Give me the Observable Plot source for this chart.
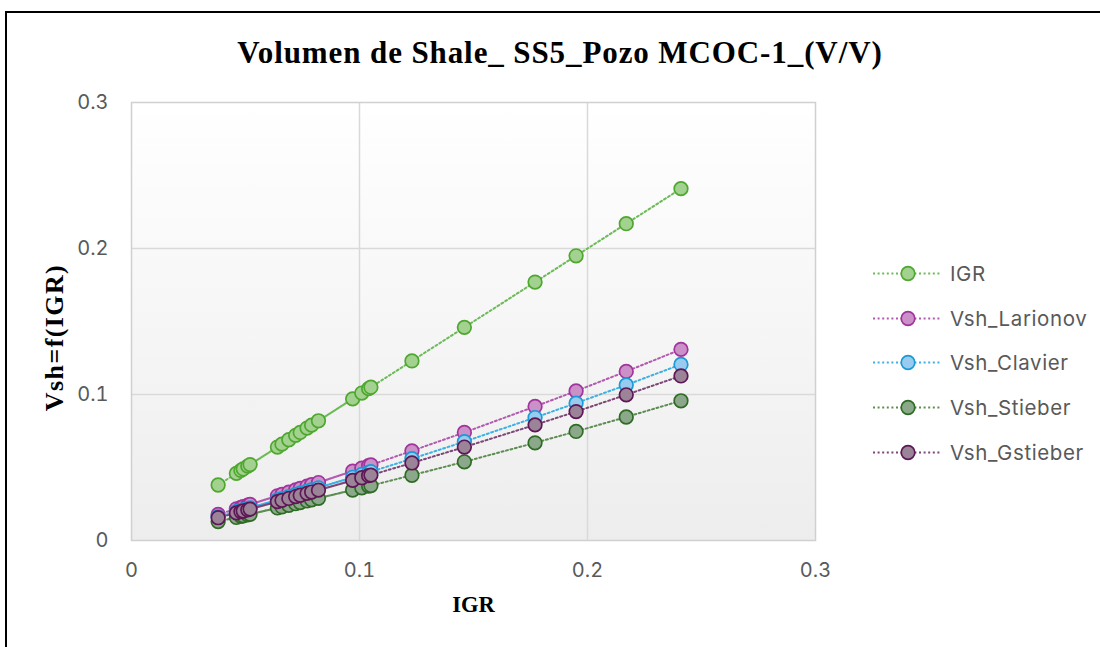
<!DOCTYPE html>
<html>
<head>
<meta charset="utf-8">
<script src="https://cdn.jsdelivr.net/npm/d3@7"></script>
<script src="https://cdn.jsdelivr.net/npm/@observablehq/plot@0.6"></script>
<style>
  html, body { margin: 0; padding: 0; background: #fff; overflow: hidden; }
  #wrap { position: relative; width: 1100px; height: 647px; overflow: hidden; }
  #wrap svg { position: absolute; left: 0; top: 0; }
  #title { position: absolute; left: 560px; top: 37px; transform: translateX(-50%);
           font-family: "Liberation Serif", "Times New Roman", serif; font-weight: bold;
           font-size: 31px; letter-spacing: 0.9px; white-space: nowrap; color: #000; line-height: 1; }
  #legend { position: absolute; left: 873px; top: 251px; font-family: Inter, "Liberation Sans", sans-serif;
            font-size: 20.5px; color: #595959; letter-spacing: 0.6px; }
  .lg { display: flex; align-items: center; height: 44.7px; }
  .lg svg { position: static !important; margin-right: 9px; }
  #border { position: absolute; left: 5px; top: 11px; width: 3000px; height: 3000px;
            border-left: 2px solid #000; border-top: 2px solid #000; pointer-events: none; }
  .ylab text { letter-spacing: 1.4px; }
</style>
</head>
<body>
<div id="wrap"></div>
<script>
// ---- data ----
const titleText = "Volumen de Shale_ SS5_Pozo MCOC-1_(V/V)";
const xLabel = "IGR";
const yLabel = "Vsh=f(IGR)";
const xTicks = [0, 0.1, 0.2, 0.3];
const yTicks = [0, 0.1, 0.2, 0.3];
const seriesNames = ["IGR", "Vsh_Larionov", "Vsh_Clavier", "Vsh_Stieber", "Vsh_Gstieber"];

const igr = [0.038,0.046,0.048,0.064,0.049,0.066,0.051,0.069,0.052,0.072,0.074,0.077,0.097,0.079,0.101,0.082,0.104,0.105,0.123,0.146,0.177,0.195,0.217,0.241];
const vshIGR = [0.038,0.046,0.048,0.064,0.049,0.066,0.051,0.069,0.052,0.072,0.074,0.077,0.097,0.079,0.101,0.082,0.104,0.105,0.123,0.146,0.177,0.195,0.217,0.241];
const vshLarionov = [0.0179,0.0217,0.0227,0.0306,0.0232,0.0316,0.0242,0.0331,0.0247,0.0346,0.0357,0.0372,0.0475,0.0382,0.0496,0.0397,0.0512,0.0517,0.0614,0.0740,0.0918,0.1024,0.1158,0.1309];
const vshClavier = [0.0162,0.0197,0.0206,0.0278,0.0210,0.0287,0.0219,0.0301,0.0224,0.0315,0.0324,0.0338,0.0433,0.0347,0.0452,0.0361,0.0466,0.0471,0.0560,0.0677,0.0842,0.0941,0.1065,0.1206];
const vshStieber = [0.0130,0.0158,0.0165,0.0223,0.0169,0.0230,0.0176,0.0241,0.0180,0.0252,0.0260,0.0271,0.0346,0.0278,0.0361,0.0289,0.0373,0.0376,0.0447,0.0539,0.0669,0.0747,0.0846,0.0957];
const vshGstieber = [0.0156,0.0189,0.0198,0.0266,0.0202,0.0275,0.0210,0.0288,0.0215,0.0301,0.0310,0.0323,0.0412,0.0332,0.0430,0.0345,0.0444,0.0448,0.0531,0.0640,0.0792,0.0883,0.0998,0.1127];

const seriesValues = [vshIGR, vshLarionov, vshClavier, vshStieber, vshGstieber];
const lineColors   = ["#6dbb58", "#b35ab0", "#3db0e4", "#5e8c52", "#7c4676"];
const fillColors   = ["#a3d18f", "#cb90c7", "#97cbef", "#8ba98a", "#9b8497"];
const strokeColors = ["#4ea72e", "#a0339c", "#1a9ad6", "#2f6b24", "#5e1656"];

// ---- build ----
const fmt = d => d === 0 ? "0" : d.toFixed(1);
const marks = [
  Plot.frame({fill: "url(#plotBg)"}),
  Plot.gridX({ticks: [0.1, 0.2], stroke: "#d9d9d9", strokeOpacity: 1, strokeWidth: 1.5}),
  Plot.gridY({ticks: [0.1, 0.2], stroke: "#d9d9d9", strokeOpacity: 1, strokeWidth: 1.5}),
  Plot.frame({stroke: "#d0d0d0", strokeWidth: 1.5}),
  Plot.axisX({ticks: xTicks, tickFormat: fmt, tickSize: 0, tickPadding: 22, fontSize: 20, fill: "#595959", fontFamily: "Inter, Liberation Sans, sans-serif", label: null}),
  Plot.axisY({ticks: yTicks, tickFormat: fmt, tickSize: 0, tickPadding: 23, fontSize: 20, fill: "#595959", fontFamily: "Inter, Liberation Sans, sans-serif", label: null}),
  Plot.text([xLabel], {frameAnchor: "bottom", dy: 71, fontSize: 22.5, fontWeight: "bold", fontFamily: "Liberation Serif, Times New Roman, serif", fill: "#000"}),
  Plot.text([yLabel], {className: "ylab", frameAnchor: "left", textAnchor: "middle", dx: -77, dy: 16, rotate: -90, fontSize: 26, fontWeight: "bold", fontFamily: "Liberation Serif, Times New Roman, serif", fill: "#000"})
];
seriesNames.forEach((name, s) => {
  const rows = igr.map((x, i) => ({x, y: seriesValues[s][i]}));
  marks.push(Plot.line(rows, {x: "x", y: "y", stroke: lineColors[s], strokeWidth: 2, strokeDasharray: "2,2.6"}));
  marks.push(Plot.dot(rows, {x: "x", y: "y", r: 6.8, fill: fillColors[s], stroke: strokeColors[s], strokeWidth: 1.7}));
});

const chart = Plot.plot({
  width: 1100, height: 647,
  marginTop: 102, marginBottom: 107, marginLeft: 131, marginRight: 285,
  x: {domain: [0, 0.3]},
  y: {domain: [0, 0.3]},
  style: {background: "transparent", overflow: "visible"},
  marks
});
const ns = "http://www.w3.org/2000/svg";
const defs = document.createElementNS(ns, "defs");
defs.innerHTML = '<linearGradient id="plotBg" x1="0" y1="0" x2="0" y2="1">' +
  '<stop offset="0" stop-color="#ffffff"/><stop offset="1" stop-color="#ededed"/></linearGradient>';
chart.insertBefore(defs, chart.firstChild);

const wrap = document.getElementById("wrap");
wrap.appendChild(chart);

const title = document.createElement("div");
title.id = "title"; title.textContent = titleText;
wrap.appendChild(title);

const legend = document.createElement("div");
legend.id = "legend";
seriesNames.forEach((name, s) => {
  const row = document.createElement("div");
  row.className = "lg";
  row.innerHTML = `<svg width="68" height="17" viewBox="0 0 68 17">
    <line x1="0" y1="8.5" x2="68" y2="8.5" stroke="${lineColors[s]}" stroke-width="2" stroke-dasharray="2,2.6"/>
    <circle cx="35" cy="8.5" r="6.8" fill="${fillColors[s]}" stroke="${strokeColors[s]}" stroke-width="1.7"/></svg><span>${name}</span>`;
  legend.appendChild(row);
});
wrap.appendChild(legend);

const border = document.createElement("div");
border.id = "border";
wrap.appendChild(border);
</script>
</body>
</html>
